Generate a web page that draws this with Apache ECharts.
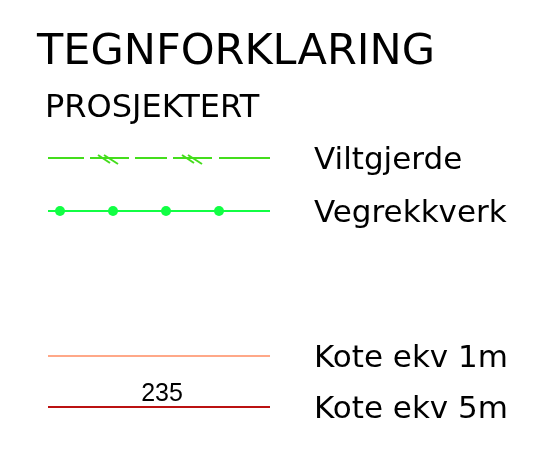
<!DOCTYPE html>
<html>
<head>
<meta charset="utf-8">
<script src="https://cdn.jsdelivr.net/npm/echarts@6/dist/echarts.min.js"></script>
<style>
  html, body { margin: 0; padding: 0; background: #fff; }
  #legendChart { width: 543px; height: 450px; }
</style>
</head>
<body>
<div id="legendChart"></div>
<script>
// legend rows (label text + row position on the vertical axis)
const rowLabels = ['Viltgjerde', 'Vegrekkverk', 'Kote ekv 1m', 'Kote ekv 5m'];
const rowY = [158, 211, 356, 407];

// sample line runs from xStart to xEnd, labels start at labelX
const xStart = 48;
const xEnd = 270;
const labelX = 314;

// Viltgjerde: dashed fence, pieces and the positions of the "\\" ticks
const fencePieces = [[48, 84], [90, 129], [135, 167], [173, 212], [219, 270]];
const fenceTicks = [108, 192];

// Vegrekkverk: posts along the rail
const railPosts = [60, 113, 166, 219];

// contour label on the 5m line
const contourValue = '235';
const contourX = 162;

const chartDom = document.getElementById('legendChart');
const myChart = echarts.init(chartDom);

// fence pieces as separate line bits
const fenceLines = fencePieces.map(p => ({ coords: [[p[0], rowY[0]], [p[1], rowY[0]]] }));
// two short slanted strokes per tick
fenceTicks.forEach(c => {
    fenceLines.push({ coords: [[c - 10, rowY[0] - 3], [c + 2, rowY[0] + 5]] });
    fenceLines.push({ coords: [[c - 4, rowY[0] - 3], [c + 10, rowY[0] + 6]] });
});

const option = {
    animation: false,
    backgroundColor: '#fff',
    title: [
        {
            text: 'TEGNFORKLARING',
            left: 37, top: 31, padding: 0,
            textStyle: { fontFamily: 'DejaVu Sans', fontWeight: 'normal', fontSize: 43, color: '#000' }
        },
        {
            text: 'PROSJEKTERT',
            left: 45, top: 93, padding: 0,
            textStyle: { fontFamily: 'DejaVu Sans', fontWeight: 'normal', fontSize: 32, color: '#000' }
        }
    ],
    grid: { left: 0, right: 0, top: 0, bottom: 0 },
    xAxis: { type: 'value', min: 0, max: 543, show: false },
    yAxis: { type: 'value', min: 0, max: 450, inverse: true, show: false },
    series: [
        {   // Viltgjerde
            type: 'lines',
            coordinateSystem: 'cartesian2d',
            lineStyle: { color: '#44dd1c', width: 2, opacity: 1 },
            data: fenceLines
        },
        {   // Vegrekkverk rail
            type: 'line',
            data: [[xStart, rowY[1]], [xEnd, rowY[1]]],
            symbol: 'none',
            lineStyle: { color: '#11ff44', width: 2 }
        },
        {   // Vegrekkverk posts
            type: 'scatter',
            data: railPosts.map(x => [x, rowY[1]]),
            symbolSize: 10,
            itemStyle: { color: '#11ff44', opacity: 1 }
        },
        {   // Kote ekv 1m
            type: 'line',
            data: [[xStart, rowY[2]], [xEnd, rowY[2]]],
            symbol: 'none',
            lineStyle: { color: '#ffa888', width: 2 }
        },
        {   // Kote ekv 5m
            type: 'line',
            data: [[xStart, rowY[3]], [xEnd, rowY[3]]],
            symbol: 'none',
            lineStyle: { color: '#bb1111', width: 2 }
        },
        {   // contour value over the 5m line
            type: 'scatter',
            data: [[contourX, rowY[3]]],
            symbolSize: 0,
            itemStyle: { opacity: 1 },
            label: {
                show: true, position: 'top', distance: 0,
                formatter: contourValue,
                fontFamily: 'Liberation Sans',
                fontSize: 25, color: '#000'
            }
        },
        {   // row labels
            type: 'scatter',
            data: rowY.map((y, i) => ({ value: [labelX, y], name: rowLabels[i] })),
            symbolSize: 0,
            itemStyle: { opacity: 1 },
            label: {
                show: true, position: 'right', distance: 0, offset: [0, 3],
                formatter: '{b}',
                fontFamily: 'DejaVu Sans', fontSize: 31, color: '#000'
            }
        }
    ]
};

option && myChart.setOption(option);
</script>
</body>
</html>
